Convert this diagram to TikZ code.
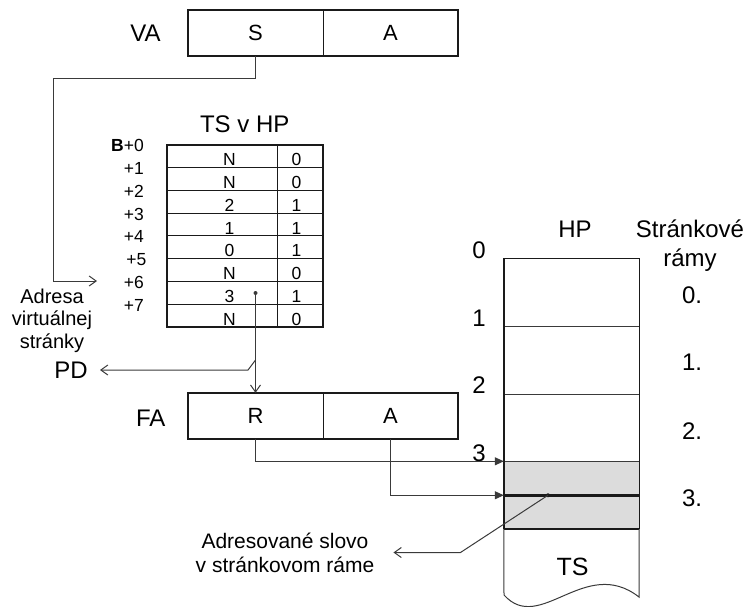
\documentclass[tikz,border=0pt]{standalone}
\usepackage{fontspec}
\setmainfont{Liberation Sans}
\usetikzlibrary{arrows.meta}
\definecolor{ink}{HTML}{1A1A1A}
\definecolor{wire}{HTML}{3A3A3A}
\definecolor{framegray}{HTML}{DCDCDC}
\tikzset{
  every node/.style={inner sep=0pt},
  lbl/.style={font=\fontsize{24}{28}\selectfont},
  field/.style={minimum width=135pt, minimum height=46pt, font=\fontsize{22}{26}\selectfont},
  cell/.style={minimum height=22.75pt, text height=20.75pt, text depth=2pt, font=\fontsize{17.5}{20}\selectfont},
  offs/.style={anchor=base east, font=\fontsize{17.5}{20}\selectfont},
  frame/.style={minimum width=135pt, minimum height=67.5pt},
  conn/.style={draw=wire, line width=1pt},
  vtip/.style={-{Straight Barb[length=7pt,width=10pt]}},
  ftip/.style={-{Triangle[length=9pt,width=8pt]}},
  box/.style={draw=ink, line width=2pt},
  rule/.style={draw=ink, line width=1pt}
}
\begin{document}
\begin{tikzpicture}[x=1pt,y=-1pt]
\useasboundingbox (0,0) rectangle (752,606);

% virtual address register
\node[field] (vaS) at (255.5,33) {S};
\node[field] (vaA) at (390.5,33) {A};
\draw[box] (vaS.north west) rectangle (vaA.south east);
\draw[rule] (vaS.north east) -- (vaS.south east);
\node[lbl, anchor=base] (va) at (145.5,41) {VA};

% page table in main memory
\node[lbl, anchor=base] (tstitle) at (244.7,132) {TS v HP};
\foreach \l/\r [count=\i from 0] in {N/0,N/0,2/1,1/1,0/1,N/0,3/1,N/0}{
  \node[cell, minimum width=111pt] (tsL\i) at (222.5,{156.375+22.75*\i}) {\hspace*{14pt}\l};
  \node[cell, minimum width=45pt] (tsR\i) at (300.5,{156.375+22.75*\i}) {\r\hspace*{8pt}};
}
\foreach \i in {1,...,7}
  \draw[rule] (tsL\i.north west) -- (tsR\i.north east);
\draw[rule] (tsR0.north west) -- (tsR7.south west);
\draw[box] (tsL0.north west) rectangle (tsR7.south east);
\foreach \t/\x [count=\i from 0] in {{\textbf{B}+0}/144,+1/144,+2/144,+3/144,+4/144,+5/146.5,+6/144,+7/144}
  \node[offs] (off\i) at (\x,{151.8+22.75*\i}) {\t};

\node[align=center, font=\fontsize{20}{22.5}\selectfont] (vlabel) at (52,320.6)
  {Adresa\\virtuálnej\\stránky};
\coordinate (vin) at (97,281);
\draw[conn, vtip] (vaS.south) |- (53,78) |- (vin);

% frame address register
\node[field] (faR) at (255.5,416) {R};
\node[field] (faA) at (390.5,416) {A};
\draw[box] (faR.north west) rectangle (faA.south east);
\draw[rule] (faR.north east) -- (faR.south east);
\node[lbl, anchor=base] (fa) at (150.8,426) {FA};

% frame number taken from the table entry
\coordinate (tdot) at (255.5,293);
\fill[wire] (tdot) circle (2pt);
\draw[conn, vtip] (tdot) -- (tdot |- faR.north);

% page fault branch
\node[lbl, anchor=east] (pd) at (88,370) {PD};
\coordinate (sw) at (255.5,360);
\draw[conn, vtip] (sw) -- ([xshift=160pt]pd.east) -- ([xshift=12pt]pd.east);

% main memory with page frames
\foreach \k in {0,1,2,3}
  \node[frame] (fr\k) at (571.5,{292.75+67.5*\k}) {};
\fill[framegray] (fr3.north west) rectangle (fr3.south east);
\foreach \k in {0,1,2}
  \draw[conn] (fr\k.south west) -- (fr\k.south east);
\draw[draw=ink, line width=1.3pt] (fr3.south west) |- (fr0.north east) -- (fr3.south east);
\draw[draw=ink, line width=2.2pt] (fr0.north west) -- (fr3.south west);
\draw[draw=ink, line width=2pt] (fr3.south west) -- (fr3.south east);
\draw[draw=ink, line width=2.7pt] (fr3.west) -- (fr3.east);
\draw[conn] (fr3.south west) -- (504,595)
  .. controls (540,635) and (585,555) .. (639,597) -- (fr3.south east);
\node[font=\fontsize{25}{30}\selectfont, anchor=base] (ts) at (572.5,575) {TS};

\node[lbl, anchor=base] (hp) at (575,237) {HP};
\node[lbl, anchor=base] (hdr1) at (690,237) {Stránkové};
\node[lbl, anchor=base] (hdr2) at (690,266.7) {rámy};
\foreach \k/\y in {0/303,1/370,2/439,3/506}
  \node[lbl, anchor=base] (fn\k) at (692,\y) {\k.};
\foreach \k in {0,1,2,3}
  \node[lbl, anchor=base east] (ln\k) at ([xshift=-18pt]fr\k.north west) {\k};

% frame and word selection
\draw[conn, ftip] (faR.south) |- (fr3.north west);
\draw[conn, ftip] (faA.south) |- (fr3.west);

% addressed word
\coordinate (word) at (548,495.25);
\fill[ink] (word) circle (2pt);
\node[align=center, font=\fontsize{21}{24}\selectfont] (adr) at (285,552.5)
  {Adresované slovo\\v stránkovom ráme};
\draw[conn, vtip] (word) -- ([xshift=86pt]adr.east) -- ([xshift=19pt]adr.east);
\end{tikzpicture}
\end{document}
